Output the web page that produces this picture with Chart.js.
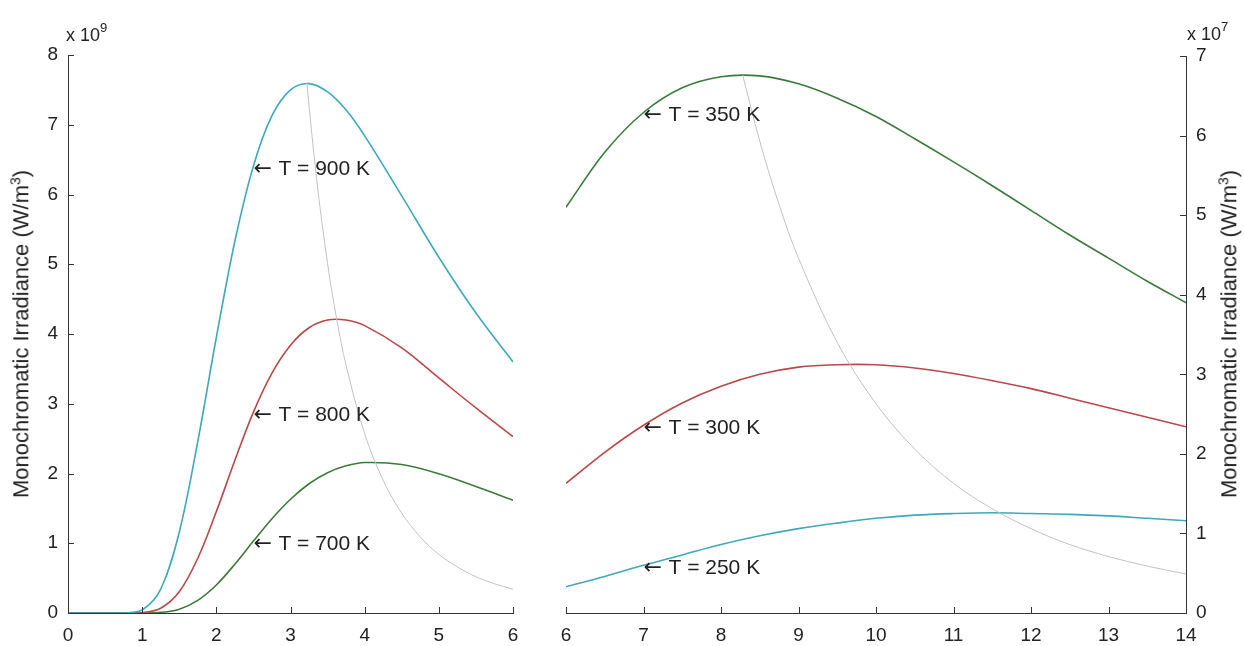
<!DOCTYPE html>
<html>
<head>
<meta charset="utf-8">
<title>Monochromatic Irradiance</title>
<script src="https://cdn.jsdelivr.net/npm/chart.js@4.4.1/dist/chart.umd.min.js"></script>
<style>
  html, body { margin:0; padding:0; background:#fff; }
  body { width:1244px; height:646px; position:relative; overflow:hidden; font-family:"Liberation Sans", Arial, sans-serif; color:#222; }
  canvas { position:absolute; top:0; }
  .exp { position:absolute; font-size:18px; white-space:nowrap; }
  .exp sup { font-size:13px; position:relative; top:-2px; }
  .ytitle { position:absolute; font-size:22px; white-space:nowrap; transform:translate(-50%,-50%) rotate(-90deg); }
  .ytitle sup { font-size:14px; }
</style>
</head>
<body>
<canvas id="left-chart" width="540" height="646" style="left:0;"></canvas>
<canvas id="right-chart" width="704" height="646" style="left:540px;"></canvas>

<div class="exp" style="left:66px; top:22px;">x 10<sup>9</sup></div>
<div class="exp" style="left:1187px; top:21px;">x 10<sup>7</sup></div>
<div class="ytitle" style="left:21px; top:334px;">Monochromatic Irradiance (W/m<sup>3</sup>)</div>
<div class="ytitle" style="left:1229px; top:334px;">Monochromatic Irradiance (W/m<sup>3</sup>)</div>

<script>
// ── Data (wavelength in µm, irradiance in units of the axis multiplier) ──
// left panel, x 10^9 W/m^3
const leftLambda = [0, 0.5, 0.75, 1, 1.25, 1.5, 1.75, 2, 2.25, 2.5, 2.75, 3, 3.25, 3.5, 3.75, 4, 4.5, 5, 5.5, 6];
const t900 = [0, 0, 0.001, 0.043, 0.342, 1.157, 2.46, 3.95, 5.33, 6.41, 7.13, 7.50, 7.59, 7.47, 7.21, 6.84, 5.98, 5.10, 4.30, 3.60];
const t800 = [0, 0, 0, 0.006, 0.069, 0.305, 0.785, 1.454, 2.19, 2.88, 3.44, 3.84, 4.09, 4.20, 4.20, 4.12, 3.80, 3.37, 2.94, 2.53];
const t700 = [0, 0, 0, 0, 0.009, 0.055, 0.181, 0.402, 0.700, 1.031, 1.352, 1.631, 1.853, 2.012, 2.11, 2.157, 2.128, 1.996, 1.814, 1.618];
const peakLambdaL = [3.22, 3.35, 3.5, 3.62, 3.75, 4.0, 4.25, 4.5, 4.75, 5.0, 5.25, 5.5, 5.75, 6.0];
const peakValL = [7.60, 6.24, 5.01, 4.23, 3.55, 2.57, 1.90, 1.43, 1.09, 0.84, 0.66, 0.52, 0.42, 0.34];

// right panel, x 10^7 W/m^3
const rightLambda = [6, 6.5, 7, 7.5, 8, 8.5, 9, 9.5, 10, 10.5, 11, 11.5, 12, 12.5, 13, 13.5, 14];
const t350 = [5.10, 5.79, 6.29, 6.60, 6.74, 6.75, 6.65, 6.47, 6.24, 5.96, 5.67, 5.37, 5.06, 4.75, 4.46, 4.17, 3.90];
const t300 = [1.63, 2.02, 2.36, 2.64, 2.85, 3.00, 3.09, 3.12, 3.12, 3.08, 3.01, 2.92, 2.82, 2.70, 2.58, 2.46, 2.34];
const t250 = [0.33, 0.46, 0.60, 0.73, 0.86, 0.97, 1.06, 1.13, 1.19, 1.23, 1.25, 1.26, 1.25, 1.24, 1.22, 1.19, 1.16];
const peakLambdaR = [8.28, 8.5, 8.75, 9, 9.5, 10, 10.5, 11, 11.5, 12, 12.5, 13, 13.5, 14];
const peakValR = [6.76, 5.93, 5.13, 4.46, 3.40, 2.63, 2.06, 1.63, 1.31, 1.06, 0.86, 0.71, 0.59, 0.49];

const leftTicksX = [0, 1, 2, 3, 4, 5, 6];
const leftTicksY = [0, 1, 2, 3, 4, 5, 6, 7, 8];
const rightTicksX = [6, 7, 8, 9, 10, 11, 12, 13, 14];
const rightTicksY = [0, 1, 2, 3, 4, 5, 6, 7];

const CYAN = '#3ea9bb';
const RED = '#b8484a';
const GREEN = '#3b7a3b';
const GRAY = '#c2c2c2';

const pts = (xs, ys) => xs.map((x, i) => ({ x, y: ys[i] }));

function series(xs, ys, color, width, label) {
  return {
    data: pts(xs, ys),
    label,
    borderColor: color,
    borderWidth: width,
    pointRadius: 0,
    fill: false,
    tension: 0.35,
  };
}

// ── Plugins ─────────────────────────────────────────────
// MATLAB-style ticks pointing into the plot
const innerTicks = {
  id: 'innerTicks',
  afterDraw(chart, args, opts) {
    const { ctx, chartArea } = chart;
    ctx.save();
    ctx.strokeStyle = '#333';
    ctx.lineWidth = 1;
    ctx.beginPath();
    opts.x.forEach(v => {
      const px = Math.round(chart.scales.x.getPixelForValue(v)) + 0.5;
      ctx.moveTo(px, chartArea.bottom);
      ctx.lineTo(px, chartArea.bottom - 6);
    });
    opts.y.forEach(v => {
      const py = Math.round(chart.scales.y.getPixelForValue(v)) + 0.5;
      const edge = opts.side === 'right' ? chartArea.right : chartArea.left;
      const dir = opts.side === 'right' ? -1 : 1;
      ctx.moveTo(edge, py);
      ctx.lineTo(edge + dir * 6, py);
    });
    ctx.stroke();
    ctx.restore();
  }
};

// "← T = ... K" labels anchored on the curves
const curveLabels = {
  id: 'curveLabels',
  afterDatasetsDraw(chart, args, opts) {
    const { ctx } = chart;
    ctx.save();
    ctx.fillStyle = '#222';
    ctx.textAlign = 'left';
    ctx.textBaseline = 'middle';
    opts.items.forEach(item => {
      const i = opts.xs.indexOf(opts.at);
      const px = chart.scales.x.getPixelForValue(opts.at);
      const py = chart.scales.y.getPixelForValue(item.ys[i]) + 3;
      ctx.font = '22px "DejaVu Sans", sans-serif';
      ctx.fillText('\u2190', px, py);
      ctx.font = '21px "Liberation Sans", Arial, sans-serif';
      ctx.fillText(item.text, px + 25, py);
    });
    ctx.restore();
  }
};

function axis(min, max, position, size, horizontal) {
  return {
    type: 'linear',
    position,
    min, max,
    ticks: {
      stepSize: 1,
      color: '#222',
      padding: horizontal ? 11 : 10,
      font: { family: '"Liberation Sans", Arial, sans-serif', size: 19 },
    },
    grid: { display: false, drawTicks: false },
    border: { display: true, color: '#333', width: 1 },
    afterFit: s => { if (horizontal) s.height = size; else s.width = size; },
  };
}

// ── Left panel ──────────────────────────────────────────
new Chart(document.getElementById('left-chart'), {
  type: 'line',
  data: {
    datasets: [
      series(peakLambdaL, peakValL, GRAY, 1, 'Peak locus'),
      series(leftLambda, t900, CYAN, 1.6, 'T = 900 K'),
      series(leftLambda, t800, RED, 1.6, 'T = 800 K'),
      series(leftLambda, t700, GREEN, 1.6, 'T = 700 K'),
    ]
  },
  options: {
    responsive: false,
    animation: false,
    layout: { padding: { top: 55, right: 27, left: 0, bottom: 0 } },
    plugins: {
      legend: { display: false },
      tooltip: { enabled: false },
      innerTicks: { x: leftTicksX, y: leftTicksY, side: 'left' },
      curveLabels: {
        xs: leftLambda, at: 2.5,
        items: [
          { text: 'T = 900 K', ys: t900 },
          { text: 'T = 800 K', ys: t800 },
          { text: 'T = 700 K', ys: t700 },
        ]
      },
    },
    scales: {
      x: axis(0, 6, 'bottom', 33, true),
      y: axis(0, 8, 'left', 68, false),
    }
  },
  plugins: [innerTicks, curveLabels]
});

// ── Right panel ─────────────────────────────────────────
new Chart(document.getElementById('right-chart'), {
  type: 'line',
  data: {
    datasets: [
      series(peakLambdaR, peakValR, GRAY, 1, 'Peak locus'),
      series(rightLambda, t350, GREEN, 1.6, 'T = 350 K'),
      series(rightLambda, t300, RED, 1.6, 'T = 300 K'),
      series(rightLambda, t250, CYAN, 1.6, 'T = 250 K'),
    ]
  },
  options: {
    responsive: false,
    animation: false,
    layout: { padding: { top: 56, right: 0, left: 26, bottom: 0 } },
    plugins: {
      legend: { display: false },
      tooltip: { enabled: false },
      innerTicks: { x: rightTicksX, y: rightTicksY, side: 'right' },
      curveLabels: {
        xs: rightLambda, at: 7,
        items: [
          { text: 'T = 350 K', ys: t350 },
          { text: 'T = 300 K', ys: t300 },
          { text: 'T = 250 K', ys: t250 },
        ]
      },
    },
    scales: {
      x: axis(6, 14, 'bottom', 33, true),
      y: axis(0, 7, 'right', 58, false),
    }
  },
  plugins: [innerTicks, curveLabels]
});
</script>
</body>
</html>
